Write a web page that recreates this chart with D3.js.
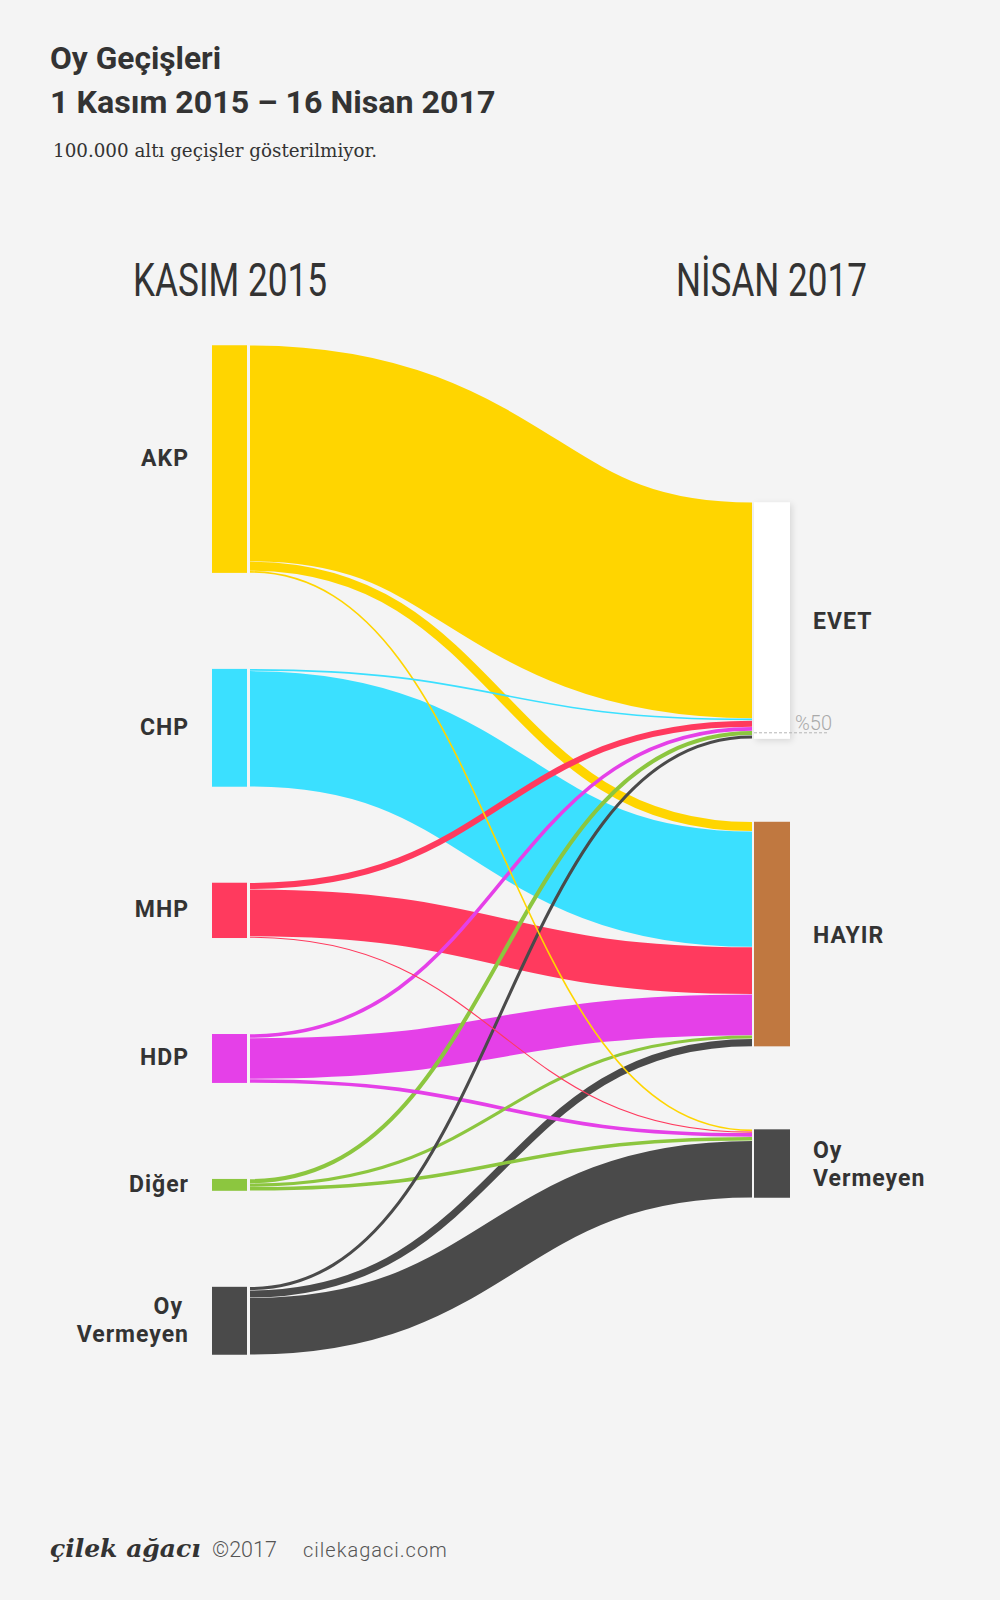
<!DOCTYPE html>
<html>
<head>
<meta charset="utf-8">
<script src="https://cdn.jsdelivr.net/npm/d3@7"></script>
<style>
  html, body { margin: 0; padding: 0; background: #f4f4f4; }
  svg { display: block; }
</style>
</head>
<body>
<script>
// ---------- DATA ----------
const leftNodes  = ["AKP", "CHP", "MHP", "HDP", "Diğer", "Oy Vermeyen"];
const leftColors = ["#FFD500", "#3BE0FF", "#FF3A5E", "#E540E8", "#8CC63F", "#4A4A4A"];
const rightNodes  = ["EVET", "HAYIR", "Oy Vermeyen"];
const rightColors = ["#FFFFFF", "#C07840", "#4A4A4A"];

// vote flows (thousands of votes), flows below 100.000 omitted
const flowSources = ["AKP","AKP","AKP", "CHP","CHP", "MHP","MHP","MHP", "HDP","HDP","HDP", "Diğer","Diğer","Diğer", "Oy Vermeyen","Oy Vermeyen","Oy Vermeyen"];
const flowTargets = ["EVET","HAYIR","Oy Vermeyen", "EVET","HAYIR", "EVET","HAYIR","Oy Vermeyen", "EVET","HAYIR","Oy Vermeyen", "EVET","HAYIR","Oy Vermeyen", "EVET","HAYIR","Oy Vermeyen"];
const flowValues  = [22400, 980, 210, 210, 12000, 670, 4900, 160, 410, 4250, 410, 460, 360, 410, 360, 780, 5900];

const columnTitles = ["KASIM 2015", "NİSAN 2017"];
const titleLines = ["Oy Geçişleri", "1 Kasım 2015 – 16 Nisan 2017"];
const subtitle = "100.000 altı geçişler gösterilmiyor.";
const majorityLabel = "%50";

// ---------- LAYOUT ----------
const W = 1000, H = 1600;
const svg = d3.select("body").append("svg").attr("width", W).attr("height", H);
svg.append("rect").attr("width", W).attr("height", H).attr("fill", "#f4f4f4");

const defs = svg.append("defs");
const f = defs.append("filter").attr("id", "shadow").attr("x", "-30%").attr("y", "-10%").attr("width", "160%").attr("height", "120%");
f.append("feDropShadow").attr("dx", 2).attr("dy", 2).attr("stdDeviation", 3).attr("flood-color", "#000").attr("flood-opacity", 0.12);

const k = d3.scaleLinear().domain([0, 1000]).range([0, 9.65]); // thousands -> px
const centerY = 850;
const leftPad = 96, rightPad = 83;
const xL0 = 212, xL1 = 247, linkX0 = 250, linkX1 = 752, xR0 = 754, xR1 = 790;

const flows = flowValues.map((v, i) => ({
  s: flowSources[i], t: flowTargets[i], v,
  si: leftNodes.indexOf(flowSources[i]), ti: rightNodes.indexOf(flowTargets[i])
}));

function column(names, key, pad) {
  const totals = names.map(n => d3.sum(flows.filter(fl => fl[key] === n), fl => fl.v));
  const span = d3.sum(totals, t => k(t)) + pad * (names.length - 1);
  let y = centerY - span / 2;
  return names.map((n, i) => {
    const node = { name: n, total: totals[i], y0: y, y1: y + k(totals[i]) };
    y = node.y1 + pad;
    return node;
  });
}
const L = column(leftNodes, "s", leftPad);
const R = column(rightNodes, "t", rightPad);

// link positions at source (ordered by target) and at target (ordered by source)
L.forEach((node, i) => {
  let y = node.y0;
  flows.filter(fl => fl.si === i).sort((a, b) => a.ti - b.ti).forEach(fl => { fl.sy = y + k(fl.v) / 2; y += k(fl.v); });
});
R.forEach((node, i) => {
  let y = node.y0;
  flows.filter(fl => fl.ti === i).sort((a, b) => a.si - b.si).forEach(fl => { fl.ty = y + k(fl.v) / 2; y += k(fl.v); });
});

const link = d3.linkHorizontal()
  .source(d => [linkX0, d.sy])
  .target(d => [linkX1, d.ty]);

// links: big first, thin ones on top
svg.append("g").attr("fill", "none").selectAll("path")
  .data(flows.slice().sort((a, b) => b.v - a.v))
  .join("path")
  .attr("d", link)
  .attr("stroke", d => leftColors[d.si])
  .attr("stroke-width", d => Math.max(1, k(d.v) - 0.4));

// left nodes
svg.append("g").selectAll("rect").data(L).join("rect")
  .attr("x", xL0).attr("width", xL1 - xL0)
  .attr("y", d => d.y0).attr("height", d => d.y1 - d.y0)
  .attr("fill", (d, i) => leftColors[i]);

// right nodes
svg.append("g").selectAll("rect").data(R).join("rect")
  .attr("x", xR0).attr("width", xR1 - xR0)
  .attr("y", d => d.y0).attr("height", d => d.y1 - d.y0)
  .attr("fill", (d, i) => rightColors[i])
  .attr("filter", (d, i) => i === 0 ? "url(#shadow)" : null);

// 50% marker (half of EVET + HAYIR, from top of EVET)
const yHalf = R[0].y0 + k((R[0].total + R[1].total) / 2);
svg.append("line").attr("x1", xR0).attr("x2", 827).attr("y1", yHalf).attr("y2", yHalf)
  .attr("stroke", "#b5b5b5").attr("stroke-width", 1).attr("stroke-dasharray", "3,2");
svg.append("text").attr("x", 795).attr("y", yHalf - 3)
  .attr("font-family", "Roboto").attr("font-weight", 300).attr("font-size", 20)
  .attr("fill", "#aaa").text(majorityLabel);

// node labels
function drawLabel(node, x, anchor) {
  const lines = node.name === "Oy Vermeyen" ? ["Oy", "Vermeyen"] : [node.name];
  const cy = (node.y0 + node.y1) / 2;
  const lh = 28;
  const t = svg.append("text")
    .attr("font-family", "Roboto").attr("font-weight", 700)
    .attr("font-size", 23).attr("letter-spacing", 1)
    .attr("fill", "#333").attr("text-anchor", anchor);
  lines.forEach((ln, j) => {
    const xx = (anchor === "end" && lines.length > 1 && j === 0) ? x - 6 : x;
    t.append("tspan").attr("x", xx)
      .attr("y", cy + (j - (lines.length - 1) / 2) * lh + (anchor === "end" ? 7 : 8.5))
      .text(ln);
  });
}
L.forEach(n => drawLabel(n, 189, "end"));
R.forEach(n => drawLabel(n, 813, "start"));

// column titles
[[133, columnTitles[0], 194], [676, columnTitles[1], 191]].forEach(([x, txt, len]) => {
  svg.append("text").attr("x", x).attr("y", 296)
    .attr("font-family", "Roboto").attr("font-weight", 400).attr("font-size", 46)
    .attr("textLength", len).attr("lengthAdjust", "spacingAndGlyphs")
    .attr("fill", "#333").text(txt);
});

// titles
svg.append("text").attr("x", 50).attr("y", 69)
  .attr("font-family", "Roboto").attr("font-weight", 700).attr("font-size", 31.7)
  .attr("fill", "#333").text(titleLines[0]);
svg.append("text").attr("x", 50).attr("y", 113)
  .attr("font-family", "Roboto").attr("font-weight", 700).attr("font-size", 32.2)
  .attr("fill", "#333").text(titleLines[1]);
svg.append("text").attr("x", 53).attr("y", 157)
  .attr("font-family", "DejaVu Serif").attr("font-weight", 300).attr("font-size", 18.3)
  .attr("fill", "#333").text(subtitle);

// footer
svg.append("text").attr("x", 50).attr("y", 1557)
  .attr("font-family", "DejaVu Serif").attr("font-style", "italic").attr("font-weight", 700)
  .attr("font-size", 25).attr("fill", "#333").text("çilek ağacı");
svg.append("text").attr("x", 212).attr("y", 1557)
  .attr("font-family", "Roboto").attr("font-weight", 300).attr("font-size", 21.5)
  .attr("fill", "#555").text("©2017");
svg.append("text").attr("x", 303).attr("y", 1557)
  .attr("font-family", "Roboto").attr("font-weight", 300).attr("font-size", 20)
  .attr("letter-spacing", 1).attr("fill", "#555").text("cilekagaci.com");
</script>
</body>
</html>
